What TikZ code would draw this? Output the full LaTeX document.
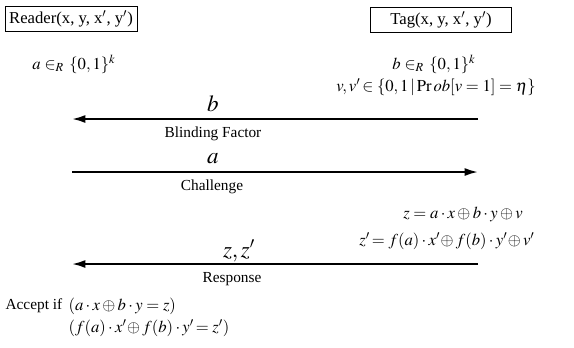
\documentclass[tikz,border=0pt]{standalone}
\usepackage{mathptmx}
\usepackage{fontspec}
\setmainfont{Liberation Serif}
\usetikzlibrary{arrows.meta}

\tikzset{
  party/.style={draw,thin,inner sep=2pt,font=\fontsize{12.5}{14}\selectfont,minimum height=19pt},
  msg/.style={-{Latex[length=10pt,width=6pt]},line width=1.5pt},
  msgsym/.style={font=\LARGE,inner sep=1pt},
  msgname/.style={font=\fontsize{11.5}{13}\selectfont,inner sep=1pt},
  calc/.style={font=\fontsize{12.5}{14}\selectfont,inner sep=1pt},
}

\begin{document}
\begin{tikzpicture}[x=0.75pt,y=-0.75pt]
  \useasboundingbox (0,0) rectangle (574,347);

  \def\xl{72}   % reader side of the messages
  \def\xr{478}  % tag side of the messages

  % The two parties
  \node[party,minimum width=99pt] (reader) at (71,18.5) {Reader(x, y, x$'$, y$'$)};
  \node[party,minimum width=106pt] (tag) at (441,19.5) {Tag(x, y, x$'$, y$'$)};

  % Random choices
  \node[calc] (rnda) at (74,64) {$a\in_R\,\{0,1\}^k$};
  \node[calc] (rndb) at (434,64) {$b\in_R\,\{0,1\}^k$};
  \node[calc] (noise) at (436,87) {$v,v'\!\in\{0,1\,|\,\mathrm{Pr}\,ob[v=1]=\eta\}$};

  % Message end points
  \coordinate (t1) at (\xr,119);
  \coordinate (r1) at (\xl,119);
  \coordinate (r2) at (\xl,172);
  \coordinate (t2) at (\xr,172);
  \coordinate (t3) at (\xr,264);
  \coordinate (r3) at (\xl,264);

  % Blinding factor
  \draw[msg] (t1) -- (r1);
  \node[msgsym] (symb) at (213,104) {$b$};
  \node[msgname] (blind) at (213,134) {Blinding Factor};

  % Challenge
  \draw[msg] (r2) -- (t2);
  \node[msgsym] (syma) at (213,159) {$a$};
  \node[msgname] (chal) at (212,187) {Challenge};

  % Tag computes its answer
  \node[calc] (zval) at (463,214) {$z=a\cdot x\oplus b\cdot y\oplus v$};
  \node[calc] (zpval) at (447,241) {$z'\!=f(a)\cdot x'\!\oplus f(b)\cdot y'\!\oplus v'$};

  % Response
  \draw[msg] (t3) -- (r3);
  \node[msgsym] (symz) at (239,251) {$z,z'$};
  \node[msgname] (resp) at (232,279) {Response};

  % Reader checks
  \node[msgname,anchor=west] (accept) at (4,306) {Accept if};
  \node[calc,anchor=west] (chk1) at (67,306) {$(a\cdot x\oplus b\cdot y=z)$};
  \node[calc,anchor=west] (chk2) at (67,328) {$(f(a)\cdot x'\!\oplus f(b)\cdot y'\!=z')$};

\end{tikzpicture}
\end{document}
